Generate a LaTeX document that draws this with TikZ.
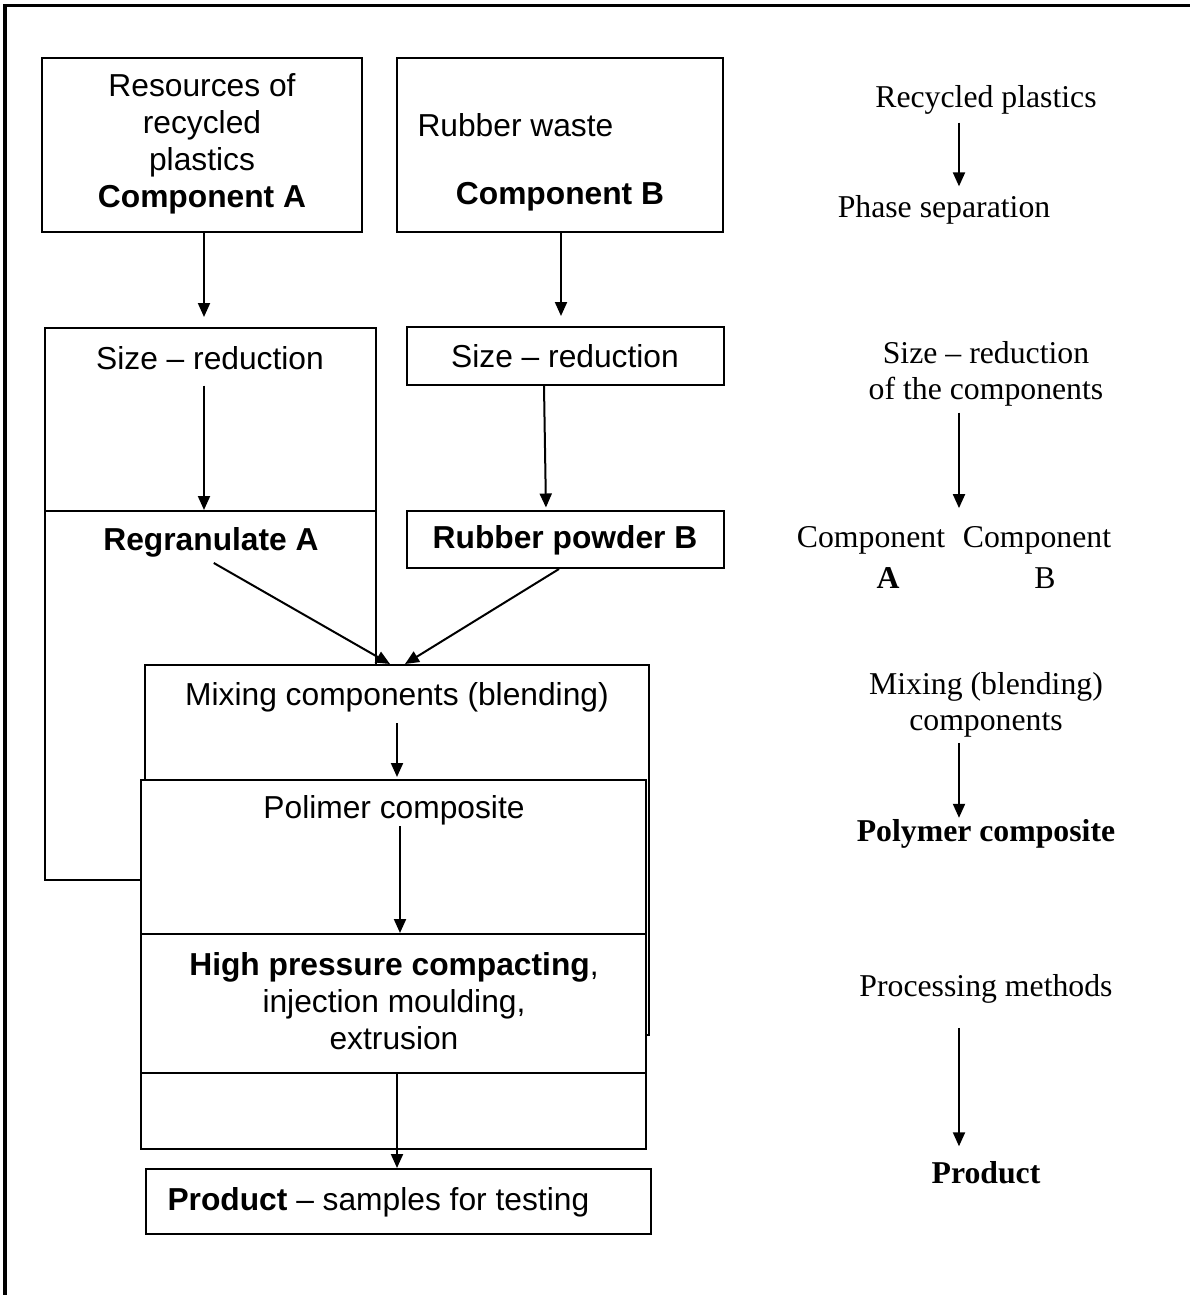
\documentclass[tikz,border=0pt]{standalone}
\usepackage{fontspec}
\setmainfont{Liberation Serif}
\setsansfont{Liberation Sans}
\usetikzlibrary{arrows.meta,fit}

\begin{document}
\begin{tikzpicture}[x=0.4pt, y=-0.4pt,
    box/.style={draw, fill=white, line width=0.8pt, inner sep=0pt},
    lbl/.style={font=\sffamily\fontsize{12.7}{14.8}\selectfont, inner sep=0pt, align=center},
    note/.style={font=\fontsize{12.7}{14.4}\selectfont, inner sep=0pt, align=center},
    arr/.style={-{Triangle[length=5.6pt,width=4.8pt]}, line width=0.8pt}]

    \useasboundingbox (0,0) rectangle (1190,1295);

    % Frame
    \draw[line width=1.2pt] (5,1295) -- (5,5) -- (1190,5);

    % Arrow columns
    \coordinate (xA) at (204,0);
    \coordinate (xB) at (561,0);
    \coordinate (xB1) at (544,0);
    \coordinate (xB2) at (546,0);
    \coordinate (xB3) at (559,0);
    \coordinate (xM1) at (390,0);
    \coordinate (xM2) at (405,0);
    \coordinate (xC) at (397,0);
    \coordinate (xC2) at (400,0);
    \coordinate (xR) at (959,0);

    % Starting materials
    \node[box, fit={(42,58) (362,232)}] (resA) {};
    \node[lbl] (tresA) at (202,144) {Resources of\\recycled\\plastics\\\textbf{Component A}};
    \node[box, fit={(397,58) (723,232)}] (resB) {};
    \node[lbl, anchor=west] (tresB) at (417,125) {Rubber waste};
    \node[lbl] (tcompB) at (560,197) {\textbf{Component B}};

    % Size reduction
    \node[box, fit={(45,328) (376,880)}] (sizeA) {};
    \node[box, fit={(45,511) (376,880)}] (granA) {};
    \node[lbl] (tsizeA) at (210,358) {Size – reduction};
    \node[lbl] (tgranA) at (211,542) {\textbf{Regranulate A}};
    \node[box, fit={(407,327) (724,385)}] (sizeB) {};
    \node[lbl] (tsizeB) at (565,356) {Size – reduction};
    \node[box, fit={(407,511) (724,568)}] (powB) {};
    \node[lbl] (tpowB) at (565,540) {\textbf{Rubber powder B}};

    % Mixing and processing
    \node[box, fit={(145,665) (649,1035)}] (mix) {};
    \node[box, fit={(141,780) (646,1149)}] (poly) {};
    \node[box, fit={(141,934) (646,1073)}] (proc) {};
    \node[lbl] (tmix) at (397,697) {Mixing components (blending)};
    \node[lbl] (tpoly) at (394,810) {Polimer composite};
    \node[lbl] (tproc) at (394,1001) {\textbf{High pressure compacting},\\injection moulding,\\extrusion};
    \node[box, fit={(146,1169) (651,1234)}] (prod) {};
    \node[lbl, anchor=west] (tprod) at (167,1202) {\textbf{Product} – samples for testing};

    % Flow arrows
    \draw[arr, shorten >=4pt] (resA.south -| xA) -- (sizeA.north -| xA);
    \draw[arr, shorten >=4pt] (resB.south -| xB) -- (sizeB.north -| xB);
    \draw[arr, shorten <=6.2pt] (tsizeA.south -| xA) -- (granA.north -| xA);
    \draw[arr, shorten >=1pt] (sizeB.south -| xB1) -- (powB.north -| xB2);
    \draw[arr, shorten <=4.5pt] (tgranA.south -| xA) -- (mix.north -| xM1);
    \draw[arr] (powB.south -| xB3) -- (mix.north -| xM2);
    \draw[arr, shorten <=4.4pt, shorten >=0.8pt] (tmix.south -| xC) -- (poly.north -| xC);
    \draw[arr, shorten <=0.4pt] (tpoly.south -| xC2) -- (proc.north -| xC2);
    \draw[arr] (proc.south -| xC) -- (prod.north -| xC);

    % Process stages
    \node[note] (rp) at (986,100) {Recycled plastics};
    \node[note] (ps) at (944,210) {Phase separation};
    \node[note] (sr) at (986,374) {Size – reduction\\of the components};
    \node[note] (ca) at (871,540) {Component};
    \node[note] (cb) at (1037,540) {Component};
    \node[note] (la) at (888,578) {\textbf{A}};
    \node[note] (lb) at (1045,578) {B};
    \node[note] (mb) at (986,705) {Mixing (blending)\\components};
    \node[note] (pc) at (986,834) {\textbf{Polymer composite}};
    \node[note] (pm) at (986,989) {Processing methods};
    \node[note] (pr) at (986,1173) {\textbf{Product}};

    \draw[arr, shorten <=3.1pt, shorten >=3.5pt] (rp.south -| xR) -- (ps.north -| xR);
    \draw[arr, shorten <=2.3pt, shorten >=7pt] (sr.south -| xR) -- (ca.north -| xR);
    \draw[arr, shorten <=2pt, shorten >=0.5pt] (mb.south -| xR) -- (pc.north -| xR);
    \draw[arr, shorten <=9.6pt, shorten >=6pt] (pm.south -| xR) -- (pr.north -| xR);
\end{tikzpicture}
\end{document}
